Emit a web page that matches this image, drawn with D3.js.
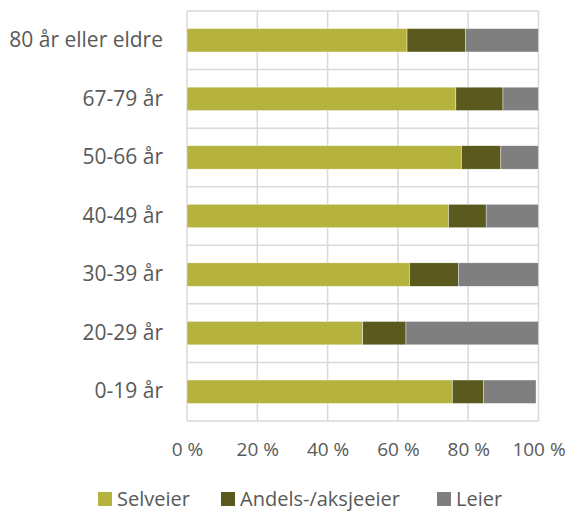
<!DOCTYPE html>
<html>
<head>
<meta charset="utf-8">
<script src="https://cdn.jsdelivr.net/npm/d3@7"></script>
<style>
  html, body { margin: 0; padding: 0; background: #fff; }
  svg text { font-family: "Open Sans", sans-serif; fill: #595959; }
</style>
</head>
<body>
<svg id="chart" width="571" height="513"></svg>
<script>
// Age groups, top to bottom
const categories = ["80 år eller eldre", "67-79 år", "50-66 år", "40-49 år", "30-39 år", "20-29 år", "0-19 år"];
// Share of persons by tenure (percent)
const selveier = [62.6, 76.5, 78.1, 74.4, 63.3, 50.0, 75.5];
const andels   = [16.6, 13.4, 11.2, 10.7, 13.9, 12.3, 8.8];
const leier    = [20.8, 10.1, 10.7, 14.9, 22.8, 37.7, 15.0];
const seriesNames = ["Selveier", "Andels-/aksjeeier", "Leier"];
const colors = ["#B5B33D", "#5A5A1E", "#7F7F7F"];
const tickValues = [0, 20, 40, 60, 80, 100];

const svg = d3.select("#chart");
const x = d3.scaleLinear().domain([0, 100]).range([187, 538.5]);
const y = d3.scaleBand().domain(categories).range([11, 421]).paddingInner(0).paddingOuter(0);

const rows = categories.map((c, i) => ({ cat: c, Selveier: selveier[i], "Andels-/aksjeeier": andels[i], Leier: leier[i] }));
const stacked = d3.stack().keys(seriesNames)(rows);

// Grid: vertical lines at ticks, horizontal lines at category boundaries
const grid = svg.append("g").attr("stroke", "#D9D9D9").attr("stroke-width", 1.5);
grid.selectAll("line.v").data(tickValues).join("line")
  .attr("x1", d => x(d)).attr("x2", d => x(d))
  .attr("y1", y.range()[0]).attr("y2", y.range()[1]);
grid.selectAll("line.h").data(d3.range(categories.length + 1)).join("line")
  .attr("x1", x(0)).attr("x2", x(100))
  .attr("y1", i => y.range()[0] + i * y.step())
  .attr("y2", i => y.range()[0] + i * y.step());

// Bars (bar thickness = band / 2.5)
const barH = y.bandwidth() / 2.5;
svg.append("g").selectAll("g").data(stacked).join("g")
  .attr("fill", (d, i) => colors[i])
  .selectAll("rect").data(d => d).join("rect")
  .attr("x", d => x(d[0]))
  .attr("width", d => x(d[1]) - x(d[0]))
  .attr("y", d => y(d.data.cat) + (y.bandwidth() - barH) / 2)
  .attr("height", barH)
  .attr("stroke", "#ffffff").attr("stroke-width", 0.4);

// Category axis
const yAxis = svg.append("g").attr("transform", `translate(${x(0)},0)`)
  .call(d3.axisLeft(y).tickSize(0).tickPadding(24));
yAxis.select(".domain").remove();
yAxis.selectAll("text").attr("font-size", 21).attr("font-family", "Open Sans, sans-serif").attr("fill", "#595959");

// Value axis
const xAxis = svg.append("g").attr("transform", `translate(0,421)`)
  .call(d3.axisBottom(x).tickValues(tickValues).tickSize(0).tickPadding(22).tickFormat(d => d + " %"));
xAxis.select(".domain").remove();
xAxis.selectAll("text").attr("font-size", 19).attr("font-family", "Open Sans, sans-serif").attr("fill", "#595959");

// Legend
const legendX = [98, 221, 437];
const lg = svg.append("g").selectAll("g").data(seriesNames).join("g")
  .attr("transform", (d, i) => `translate(${legendX[i]},492)`);
lg.append("rect").attr("width", 14).attr("height", 14).attr("fill", (d, i) => colors[i]);
lg.append("text").attr("x", 19).attr("y", 14).attr("font-size", 20).text(d => d);
</script>
</body>
</html>
